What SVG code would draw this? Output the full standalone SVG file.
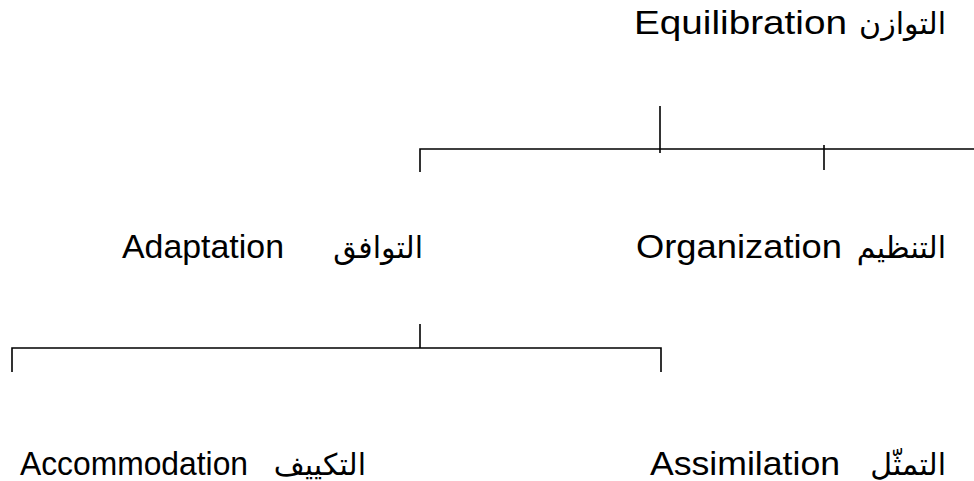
<svg xmlns="http://www.w3.org/2000/svg" width="974" height="481" viewBox="0 0 974 481">
<style>
.t{font-family:"Liberation Sans",Arial,sans-serif;font-size:34px;fill:#000}
.a{font-family:"DejaVu Sans","Noto Sans",sans-serif;font-size:30px;fill:#000}
.ln{stroke:#000;stroke-width:1.6;fill:none}
</style>
<rect width="974" height="481" fill="#fff"/>
<g id="connectors">
<path class="ln" d="M660 106V153"/>
<path class="ln" d="M420 172V149H974"/>
<path class="ln" d="M824 145V170"/>
<path class="ln" d="M420 324V348"/>
<path class="ln" d="M12 372V348H661V372"/>
</g>
<g id="equilibration">
<text class="t" x="634" y="34" textLength="213" lengthAdjust="spacingAndGlyphs">Equilibration</text>
<text class="a" x="946" y="34" text-anchor="end">التوازن</text>
</g>
<g id="organization">
<text class="t" x="636" y="258" textLength="206" lengthAdjust="spacingAndGlyphs">Organization</text>
<text class="a" x="946" y="258" text-anchor="end">التنظيم</text>
</g>
<g id="adaptation">
<text class="t" x="122" y="258" textLength="162" lengthAdjust="spacingAndGlyphs">Adaptation</text>
<text class="a" x="423" y="258" text-anchor="end">التوافق</text>
</g>
<g id="assimilation">
<text class="t" x="650" y="475" textLength="190" lengthAdjust="spacingAndGlyphs">Assimilation</text>
<text class="a" x="946" y="475" text-anchor="end">التمثّل</text>
</g>
<g id="accommodation">
<text class="t" x="20" y="475" textLength="228" lengthAdjust="spacingAndGlyphs">Accommodation</text>
<text class="a" x="366" y="475" text-anchor="end">التكييف</text>
</g>
</svg>
